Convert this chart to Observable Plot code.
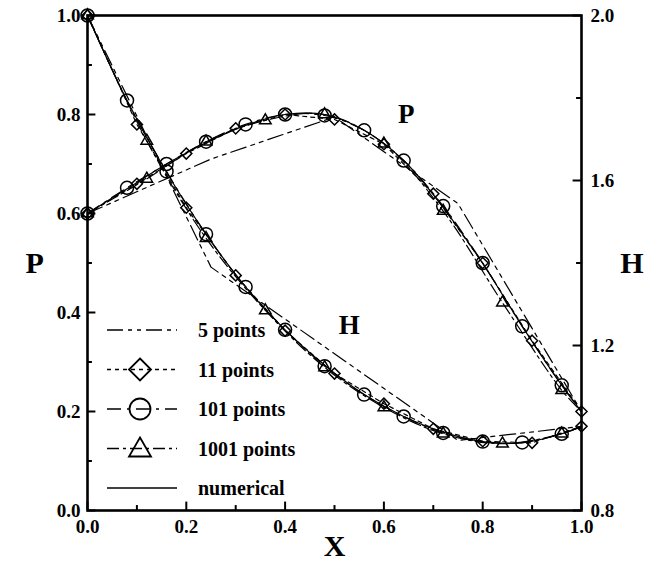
<!DOCTYPE html>
<html><head><meta charset="utf-8">
<script src="https://cdn.jsdelivr.net/npm/d3@7"></script>
<script src="https://cdn.jsdelivr.net/npm/@observablehq/plot@0.6"></script>
<style>
body{margin:0;background:#fff;}
#chart svg{font-family:"Liberation Serif","Times New Roman",serif;}
</style></head><body><div id="chart"></div>
<script>
// ---- data ----
const xCircles   = [0,0.08,0.16,0.24,0.32,0.40,0.48,0.56,0.64,0.72,0.80,0.88,0.96,1.0];
const pNumerical = [0.600,0.650,0.700,0.743,0.778,0.800,0.800,0.768,0.707,0.612,0.499,0.372,0.253,0.200];
const hNumerical = [2.000,1.794,1.620,1.470,1.342,1.238,1.152,1.081,1.028,0.990,0.967,0.964,0.986,1.004];
const p101 = [0.600,0.652,0.700,0.745,0.780,0.800,0.798,0.768,0.707,0.615,0.500,0.372,0.253,0.200];
const h101 = [2.000,1.794,1.622,1.470,1.342,1.238,1.150,1.081,1.028,0.988,0.967,0.965,0.986,1.004];

const xDiamonds = [0,0.1,0.2,0.3,0.4,0.5,0.6,0.7,0.8,0.9,1.0];
const p11 = [0.600,0.660,0.721,0.772,0.800,0.790,0.740,0.640,0.500,0.343,0.200];
const h11 = [2.000,1.736,1.534,1.370,1.236,1.132,1.059,0.998,0.968,0.964,1.004];

const xTriangles = [0,0.12,0.24,0.36,0.48,0.60,0.72,0.84,0.96,1.0];
const p1001 = [0.600,0.670,0.745,0.788,0.800,0.741,0.605,0.420,0.243,0.200];
const h1001 = [2.000,1.696,1.460,1.285,1.147,1.050,0.986,0.962,0.986,1.004];

const x5 = [0,0.25,0.5,0.75,1.0];
const p5 = [0.600,0.710,0.795,0.620,0.200];
const h5 = [2.000,1.390,1.180,0.970,1.004];

const seriesNames = ["5 points","11 points","101 points","1001 points","numerical"];
const xTicksMajor = [0,0.2,0.4,0.6,0.8,1.0];
const xTicksMinor = [0.1,0.3,0.5,0.7,0.9];
const pTicksMajor = [0,0.2,0.4,0.6,0.8,1.0];
const pTicksMinor = [0.1,0.3,0.5,0.7,0.9];
const hTicksMajor = [0.8,1.2,1.6,2.0];
const hTicksMinor = [1.0,1.4,1.8];
const curveLabels = [{text:"P", x:0.645, v:0.80, axis:"P"}, {text:"H", x:0.53, v:1.249, axis:"H"}];

// ---- helpers ----
const H0 = 0.8, H1 = 2.0;
const hToFrame = h => (h - H0) / (H1 - H0);
const frameToH = f => H0 + f * (H1 - H0);

const styles = {
  "5 points":   {dash:"16,5,4,5,4,5", symbol:null,       r:0,   xs:x5,         p:p5,         h:h5,         curve:"linear"},
  "11 points":  {dash:"4,4",          symbol:"diamond2", r:5,   xs:xDiamonds,  p:p11,        h:h11,        curve:"linear"},
  "101 points": {dash:"14,6,3,6",     symbol:"circle",   r:6.5, xs:xCircles,   p:p101,       h:h101,       curve:"catmull-rom"},
  "1001 points":{dash:"12,4,3,4",     symbol:"triangle", r:4.3, xs:xTriangles, p:p1001,      h:h1001,      curve:"catmull-rom"},
  "numerical":  {dash:null,           symbol:null,       r:0,   xs:xCircles,   p:pNumerical, h:hNumerical, curve:"catmull-rom"}
};

function rowsFor(name) {
  const s = styles[name];
  const rows = [];
  s.xs.forEach((x, i) => rows.push({series:name, curve:"P", x, y:s.p[i]}));
  s.xs.forEach((x, i) => rows.push({series:name, curve:"H", x, y:hToFrame(s.h[i])}));
  return rows;
}

const marks = [];
for (const name of seriesNames) {
  const s = styles[name];
  const rows = rowsFor(name);
  marks.push(Plot.line(rows, {x:"x", y:"y", z:"curve", stroke:"black", strokeWidth:1.2,
    strokeDasharray: s.dash || undefined, curve:s.curve}));
  if (s.symbol) {
    const markerRows = name === "11 points" ? rows : rows.filter(d => d.x < 1);
    marks.push(Plot.dot(markerRows, {x:"x", y:"y", symbol:() => s.symbol, r:s.r,
      stroke:"black", strokeWidth:1.5, fill:"none"}));
  }
}

const svg = Plot.plot({
  width: 665, height: 570,
  marginLeft: 87, marginRight: 84, marginTop: 15, marginBottom: 60,
  style: {fontFamily:'"Liberation Serif","Times New Roman",serif', fontSize:"19px", fontWeight:"bold", background:"white", color:"black"},
  symbol: {type:"identity"},
  x: {domain:[0,1]},
  y: {domain:[0,1]},
  marks: [
    ...marks,
    // inward ticks
    Plot.ruleX(xTicksMajor, {x:d=>d, y1:0, y2:0.017, strokeWidth:2}),
    Plot.ruleX(xTicksMinor, {x:d=>d, y1:0, y2:0.010, strokeWidth:2}),
    Plot.ruleY(pTicksMajor, {y:d=>d, x1:0, x2:0.017, strokeWidth:2}),
    Plot.ruleY(pTicksMinor, {y:d=>d, x1:0, x2:0.010, strokeWidth:2}),
    Plot.ruleY(hTicksMajor, {y:d=>hToFrame(d), x1:0.983, x2:1, strokeWidth:2}),
    Plot.ruleY(hTicksMinor, {y:d=>hToFrame(d), x1:0.990, x2:1, strokeWidth:2}),
    Plot.axisX({ticks:xTicksMajor, tickSize:0, tickPadding:9, tickFormat:d=>d.toFixed(1), label:null, fontWeight:"bold"}),
    Plot.axisY({anchor:"left", ticks:pTicksMajor, tickSize:0, tickPadding:7, tickFormat:d=>d.toFixed(1), label:null, fontWeight:"bold"}),
    Plot.axisY({anchor:"right", ticks:hTicksMajor.map(hToFrame), tickSize:0, tickPadding:9, tickFormat:d=>frameToH(d).toFixed(1), label:null, fontWeight:"bold"}),
    Plot.frame({strokeWidth:2.6}),
    // curve labels
    Plot.text(curveLabels, {x:"x", y:d => d.axis === "H" ? hToFrame(d.v) : d.v, text:"text", fontSize:27, fontWeight:"bold"}),
    // axis titles
    Plot.text(["P"], {text:d=>d, frameAnchor:"left", dx:-62, fontSize:30, fontWeight:"bold"}),
    Plot.text(["H"], {text:d=>d, frameAnchor:"right", dx:62, fontSize:30, fontWeight:"bold"}),
    Plot.text(["X"], {text:d=>d, frameAnchor:"bottom", dy:45, fontSize:30, fontWeight:"bold"})
  ]
});

// ---- legend (inside plot, lower left) ----
const g = d3.select(svg).append("g").attr("font-size", 20).attr("font-weight", "bold")
  .attr("text-anchor", "start")
  .attr("font-family", '"Liberation Serif","Times New Roman",serif');
seriesNames.forEach((name, i) => {
  const s = styles[name];
  const y = 330 + i * 39.5;
  g.append("line").attr("x1", 107).attr("x2", 177).attr("y1", y).attr("y2", y)
    .attr("stroke", "black").attr("stroke-width", 1.3)
    .attr("stroke-dasharray", s.dash || null);
  const cx = 140;
  if (s.symbol === "circle") {
    g.append("circle").attr("cx", cx).attr("cy", y).attr("r", 10.5)
      .attr("fill", "none").attr("stroke", "black").attr("stroke-width", 1.8);
  } else if (s.symbol === "diamond2") {
    g.append("path").attr("d", `M${cx},${y-11}L${cx+11},${y}L${cx},${y+11}L${cx-11},${y}Z`)
      .attr("fill", "none").attr("stroke", "black").attr("stroke-width", 1.8);
  } else if (s.symbol === "triangle") {
    g.append("path").attr("d", `M${cx},${y-11}L${cx+11},${y+8}L${cx-11},${y+8}Z`)
      .attr("fill", "none").attr("stroke", "black").attr("stroke-width", 1.8);
  }
  g.append("text").attr("x", 198).attr("y", y).attr("dy", "0.35em").attr("text-anchor", "start").text(name);
});

document.getElementById("chart").append(svg);
</script></body></html>
